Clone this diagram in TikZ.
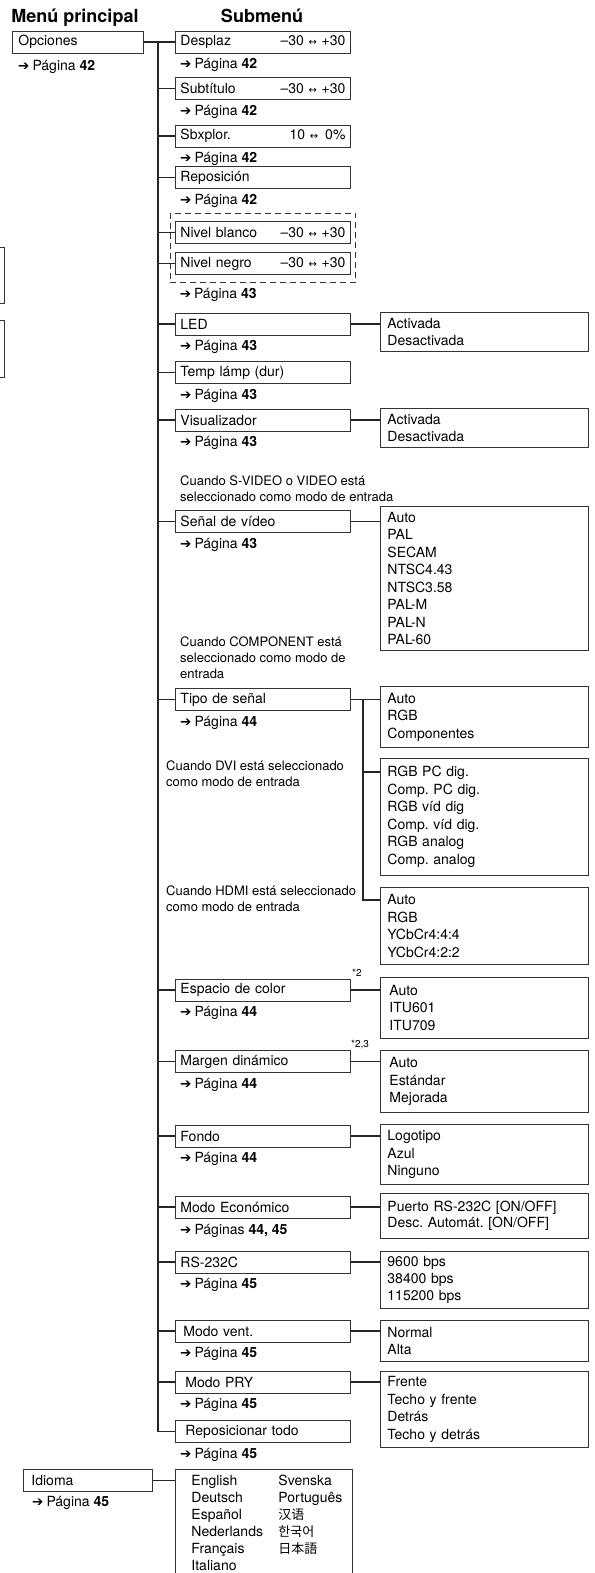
\documentclass[tikz,border=0pt]{standalone}
\usepackage{fontspec}
\setmainfont{TeX Gyre Heros}
\newfontfamily\symfont{DejaVu Sans}
\newfontfamily\cjksc{Noto Sans CJK SC}
\newfontfamily\cjkkr{Noto Sans CJK KR}
\newfontfamily\cjkjp{Noto Sans CJK JP}
\usetikzlibrary{fit}
\frenchspacing

\newcommand\parrow{{\symfont\fontsize{13.5}{13.5}\selectfont ➔}\hspace{3pt}}
\newcommand\pag[1]{\parrow Página \textbf{#1}}
\newcommand\rng[2]{\hskip 0pt plus 1filll #1 {\symfont\fontsize{10}{10}\selectfont ↔} #2}

\begin{document}
\begin{tikzpicture}[x=1pt, y=-1pt,
	boxline/.style={draw=black!80, line width=0.9pt},
	menubox/.style={boxline, anchor=west, minimum height=22pt, inner xsep=5pt, inner ysep=0pt, align=left, font=\fontsize{14}{17}\selectfont},
	subbox/.style={menubox, text width=165pt},
	optbox/.style={boxline, anchor=north west, inner xsep=7pt, inner ysep=0pt, text width=194pt, align=left, font=\fontsize{14}{17.5}\selectfont},
	pagelbl/.style={anchor=west, inner sep=0pt, font=\fontsize{14}{17}\selectfont},
	note/.style={anchor=north west, inner sep=0pt, align=left, font=\fontsize{13}{16}\selectfont},
	head/.style={anchor=base, inner sep=0pt, font=\bfseries\fontsize{18}{18}\selectfont},
	link/.style={line width=1.4pt, black!85}]
	\useasboundingbox (0,0) rectangle (594,1573);
	\clip (0,0) rectangle (594,1573);

	% headings
	\node[head] (hmain) at (75,23) {Menú principal};
	\node[head] (hsub) at (262,23) {Submenú};

	% main menu
	\node[menubox, text width=119pt, inner xsep=6pt] (opciones) at (12,42) {Opciones};
	\node[pagelbl] (pgopc) at ([shift={(6,13)}]opciones.south west) {\pag{42}};
	\node[menubox, text width=113pt, inner xsep=8pt] (idioma) at (23,1480.5) {Idioma};
	\node[pagelbl] (pgidi) at ([shift={(9,11)}]idioma.south west) {\pag{45}};

	% cut-off boxes at the left edge
	\draw[boxline] (-20,247) rectangle (4,303);
	\draw[boxline] (-20,320) rectangle (4,377);

	% submenu
	\node[subbox] (desplaz) at (175,42) {Desplaz\rng{–30}{+30}};
	\node[subbox] (subtitulo) at (175,88.5) {Subtítulo\rng{–30}{+30}};
	\node[subbox] (sbxplor) at (175,136) {Sbxplor.\rng{10}{\,0\%}};
	\node[subbox] (reposicion) at (175,177.5) {Reposición};
	\node[subbox] (nivblanco) at (175,232.5) {Nivel blanco\rng{–30}{+30}};
	\node[subbox] (nivnegro) at (175,263.5) {Nivel negro\rng{–30}{+30}};
	\node[fit=(nivblanco)(nivnegro), inner xsep=5pt, inner ysep=7.5pt, draw=black!80, line width=0.9pt, dash pattern=on 6pt off 4pt] (nivgroup) {};
	\node[subbox] (led) at (175,324) {LED};
	\node[subbox] (templamp) at (175,372.5) {Temp lámp (dur)};
	\node[subbox] (visual) at (175,420) {Visualizador};
	\node[subbox] (senal) at (175,521.5) {Señal de vídeo};
	\node[subbox] (tipo) at (175,699.5) {Tipo de señal};
	\node[subbox] (espacio) at (175,990) {Espacio de color};
	\node[subbox] (margen) at (175,1061.5) {Margen dinámico};
	\node[subbox] (fondo) at (175,1136) {Fondo};
	\node[subbox] (modoeco) at (175,1207) {Modo Económico};
	\node[subbox] (rs) at (175,1262) {RS-232C};
	\node[subbox] (vent) at (175,1331) {\hspace{3pt}Modo vent.};
	\node[subbox] (pry) at (175,1382) {\hspace{5pt}Modo PRY};
	\node[subbox] (reptodo) at (175,1431.5) {\hspace{5pt}Reposicionar todo};

	% page references
	\foreach \n/\p in {desplaz/42, subtitulo/42, sbxplor/42, reposicion/42, led/43, templamp/43, visual/43, senal/43, tipo/44, espacio/44, margen/44, fondo/44, rs/45, vent/45, pry/45, reptodo/45}
		\node[pagelbl] (pg\n) at ([shift={(5,11.5)}]\n.south west) {\pag{\p}};
	\node[pagelbl] (pgniv) at ([shift={(10,12)}]nivgroup.south west) {\pag{43}};
	\node[pagelbl] (pgmodoeco) at ([shift={(5,12)}]modoeco.south west) {\parrow Páginas \textbf{44, 45}};

	% conditions
	\node[note] (nsvideo) at (180,475.5) {Cuando S-VIDEO o VIDEO está\\seleccionado como modo de entrada};
	\node[note] (ncomp) at (180,637) {Cuando COMPONENT está\\seleccionado como modo de\\entrada};
	\node[note] (ndvi) at (166,760.5) {Cuando DVI está seleccionado\\como modo de entrada};
	\node[note] (nhdmi) at (166,885.5) {Cuando HDMI está seleccionado\\como modo de entrada};
	\node[note, anchor=west, font=\fontsize{10}{10}\selectfont] (fn2) at (352,973) {*2};
	\node[note, anchor=west, font=\fontsize{10}{10}\selectfont] (fn23) at (351,1045) {*2,3};

	% settings
	\node[optbox, minimum height=39pt] (ledopt) at (380,312) {Activada\\Desactivada};
	\node[optbox, minimum height=39pt] (visopt) at (380,408) {Activada\\Desactivada};
	\node[optbox, minimum height=144pt] (senalopt) at (380,506) {Auto\\PAL\\SECAM\\NTSC4.43\\NTSC3.58\\PAL-M\\PAL-N\\PAL-60};
	\node[optbox, minimum height=61pt] (tipoa) at (380,686) {Auto\\RGB\\Componentes};
	\node[optbox, minimum height=117pt] (tipob) at (380,758) {RGB PC dig.\\Comp. PC dig.\\RGB víd dig\\Comp. víd dig.\\RGB analog\\Comp. analog};
	\node[optbox, minimum height=77pt] (tipoc) at (380,887) {Auto\\RGB\\YCbCr4:4:4\\YCbCr4:2:2};
	\node[optbox, minimum height=61pt, inner xsep=9pt, text width=190pt] (espopt) at (380,977) {Auto\\ITU601\\ITU709};
	\node[optbox, minimum height=62pt, inner xsep=9pt, text width=190pt] (margopt) at (380,1050) {Auto\\Estándar\\Mejorada};
	\node[optbox, minimum height=60pt] (fondopt) at (380,1124) {Logotipo\\Azul\\Ninguno};
	\node[optbox, minimum height=45pt, font=\fontsize{14}{16}\selectfont] (ecoopt) at (380,1193) {Puerto RS-232C [ON/OFF]\\Desc. Automát. [ON/OFF]};
	\node[optbox, minimum height=57pt, font=\fontsize{14}{17}\selectfont] (rsopt) at (380,1251) {9600 bps\\38400 bps\\115200 bps};
	\node[optbox, minimum height=41pt] (ventopt) at (380,1320) {Normal\\Alta};
	\node[optbox, minimum height=76pt] (pryopt) at (380,1371) {Frente\\Techo y frente\\Detrás\\Techo y detrás};
	\node[optbox, minimum height=110pt, inner xsep=16pt, text width=145pt, font=\fontsize{14}{16.9}\selectfont] (langs) at (175,1469) {%
		\begin{tabular}{@{}p{87pt}@{}l@{}}
		English & Svenska\\
		Deutsch & Português\\
		Español & {\cjksc\fontsize{13}{13}\selectfont 汉语}\\
		Nederlands & {\cjkkr\fontsize{13}{13}\selectfont 한국어}\\
		Français & {\cjkjp\fontsize{13}{13}\selectfont 日本語}\\
		Italiano &
		\end{tabular}};

	% connectors
	\coordinate (trunk) at ([xshift=14pt]opciones.east);
	\draw[link] (opciones.east) -- (desplaz.west);
	\draw[link] (trunk) |- (reptodo.west);
	\foreach \n in {subtitulo, sbxplor, reposicion, nivblanco, nivnegro, led, templamp, visual, senal, tipo, espacio, margen, fondo, modoeco, rs, vent, pry}
		\draw[link] (\n.west) -- (\n.west -| trunk);
	\foreach \n/\o in {led/ledopt, visual/visopt, senal/senalopt, espacio/espopt, margen/margopt, fondo/fondopt, modoeco/ecoopt, rs/rsopt, vent/ventopt, pry/pryopt}
		\draw[link] (\n.east) -- (\n.east -| \o.west);
	\coordinate (subtrunk) at ([xshift=12pt]tipo.east);
	\coordinate (bjoin) at ([yshift=-14pt]tipob.north west);
	\draw[link] (tipo.east) -- (tipo.east -| tipoa.west);
	\draw[link] (subtrunk) |- ([yshift=-13pt]tipoc.north west);
	\draw[link] (bjoin) -- (bjoin -| subtrunk);
	\draw[link] (idioma.east) -- (idioma.east -| langs.west);
\end{tikzpicture}
\end{document}
